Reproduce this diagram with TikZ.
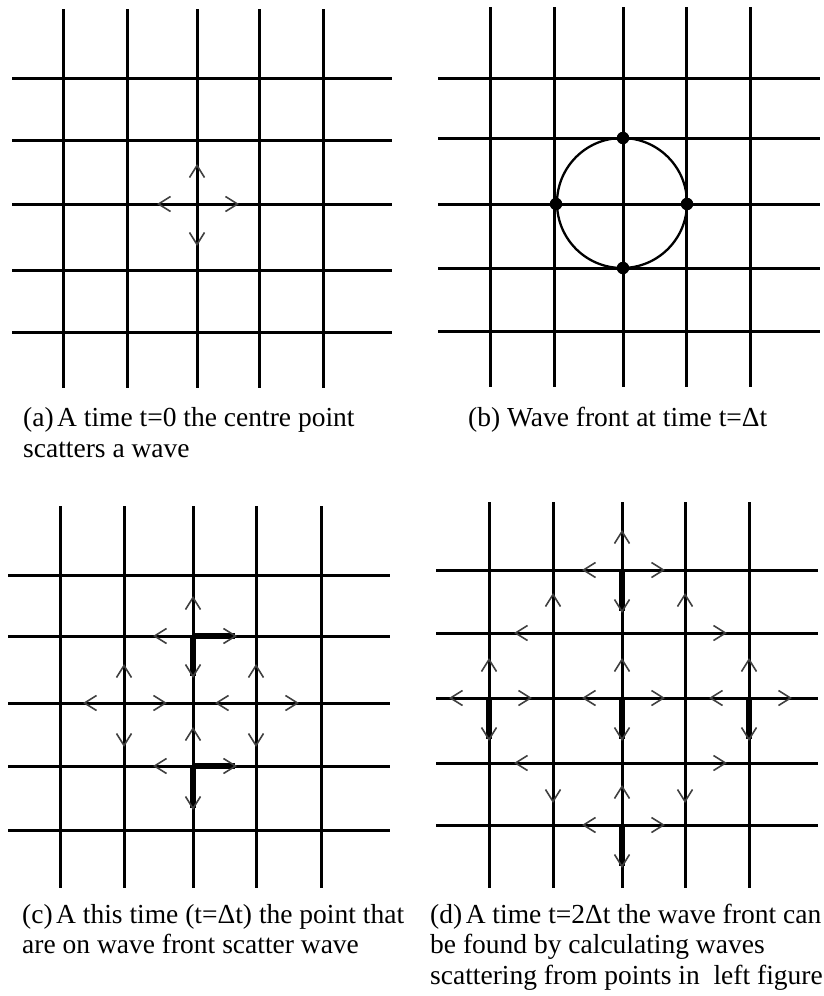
\documentclass[tikz,border=0pt]{standalone}
\usepackage{fontspec}
\setmainfont{Liberation Serif}
\usetikzlibrary{arrows.meta}
\begin{document}
\begin{tikzpicture}[x=1pt,y=-1pt,
  gridline/.style={line width=3.0pt, black, line cap=butt},
  wave/.style={line width=3.0pt, black, -{Straight Barb[length=12pt,width=15pt,line width=1.6pt,color=black!75]}},
  thickwave/.style={wave, line width=5.2pt},
  captext/.style={anchor=base west, inner sep=0pt, font=\fontsize{27.5}{31}\selectfont},
  dot/.style={circle, fill=black, inner sep=0pt, minimum size=12.5pt},
  front/.style={line width=2.3pt, black}]
\useasboundingbox (0,0) rectangle (824,996);

% ---------- panel (a) ----------
\foreach \x in {63,127,197,259,323} \draw[gridline] (\x,9) -- (\x,388);
\foreach \y in {78,140,204,270,332} \draw[gridline] (12,\y) -- (392,\y);
\coordinate (a0) at (197,204);
\draw[wave] (a0) -- ++(0,-40);
\draw[wave] (a0) -- ++(0,42);
\draw[wave] (a0) -- ++(-40,0);
\draw[wave] (a0) -- ++(42,0);

% ---------- panel (b) ----------
\foreach \x in {490,554,623,686,750} \draw[gridline] (\x,7) -- (\x,387);
\foreach \y in {78,138,204,268,331} \draw[gridline] (438,\y) -- (820,\y);
\coordinate (b0) at (622,203);
\draw[front] (b0) circle[radius=65pt];
\node[dot] (bT) at (623,138) {};
\node[dot] (bB) at (623,268) {};
\node[dot] (bL) at (556,204) {};
\node[dot] (bR) at (687,204) {};

% ---------- panel (c) ----------
\foreach \x in {60,124,193,256,321} \draw[gridline] (\x,506) -- (\x,888);
\foreach \y in {575,636,703,766,830} \draw[gridline] (8,\y) -- (390,\y);
\coordinate (cT) at (193,636);
\coordinate (cL) at (124,703);
\coordinate (cR) at (256,703);
\coordinate (cB) at (193,766);
\draw[wave] (cT) -- ++(0,-40);
\draw[wave] (cT) -- ++(-40,0);
\draw[thickwave] (cT) -- ++(44,0);
\draw[thickwave] (cT) -- ++(0,42);
\foreach \p in {cL,cR}{
  \draw[wave] (\p) -- ++(0,-39);
  \draw[wave] (\p) -- ++(0,44);
  \draw[wave] (\p) -- ++(-41,0);
  \draw[wave] (\p) -- ++(43,0);
}
\draw[wave] (cB) -- ++(0,-39);
\draw[wave] (cB) -- ++(-40,0);
\draw[thickwave] (cB) -- ++(44,0);
\draw[thickwave] (cB) -- ++(0,44);

% ---------- panel (d) ----------
\foreach \x in {489,553,622,685,749} \draw[gridline] (\x,502) -- (\x,888);
\foreach \y in {570,633,698,763,825} \draw[gridline] (436,\y) -- (818,\y);
\coordinate (dT) at (622,570);
\coordinate (dUL) at (553,633);
\coordinate (dUR) at (685,633);
\coordinate (dL) at (489,698);
\coordinate (dC) at (622,698);
\coordinate (dR) at (749,698);
\coordinate (dDL) at (553,763);
\coordinate (dDR) at (685,763);
\coordinate (dB) at (622,825);
\foreach \p in {dT,dL,dC,dR,dB}{
  \draw[wave] (\p) -- ++(0,-40);
  \draw[wave] (\p) -- ++(-40,0);
  \draw[wave] (\p) -- ++(43,0);
  \draw[thickwave] (\p) -- ++(0,43);
}
\draw[wave] (dUL) -- ++(0,-40);
\draw[wave] (dUL) -- ++(-39,0);
\draw[wave] (dUR) -- ++(0,-40);
\draw[wave] (dUR) -- ++(42,0);
\draw[wave] (dDL) -- ++(-39,0);
\draw[wave] (dDL) -- ++(0,40);
\draw[wave] (dDR) -- ++(42,0);
\draw[wave] (dDR) -- ++(0,40);

% ---------- captions ----------
\node[captext] (capA1) at (23,426) {(a)\kern3.5pt A time t=0 the centre point};
\node[captext] (capA2) at (23,457) {scatters a wave};
\node[captext] (capB1) at (468,426) {(b) Wave front at time t=Δt};
\node[captext] (capC1) at (22,923) {(c)\kern3.5pt A this time (t=Δt) the point that};
\node[captext] (capC2) at (22,953) {are on wave front scatter wave};
\node[captext] (capD1) at (430,923) {(d)\kern3.5pt A time t=2Δt the wave front can};
\node[captext] (capD2) at (430,953) {be found by calculating waves};
\node[captext] (capD3) at (430,984) {scattering from points in\ \ left figure};
\end{tikzpicture}
\end{document}
